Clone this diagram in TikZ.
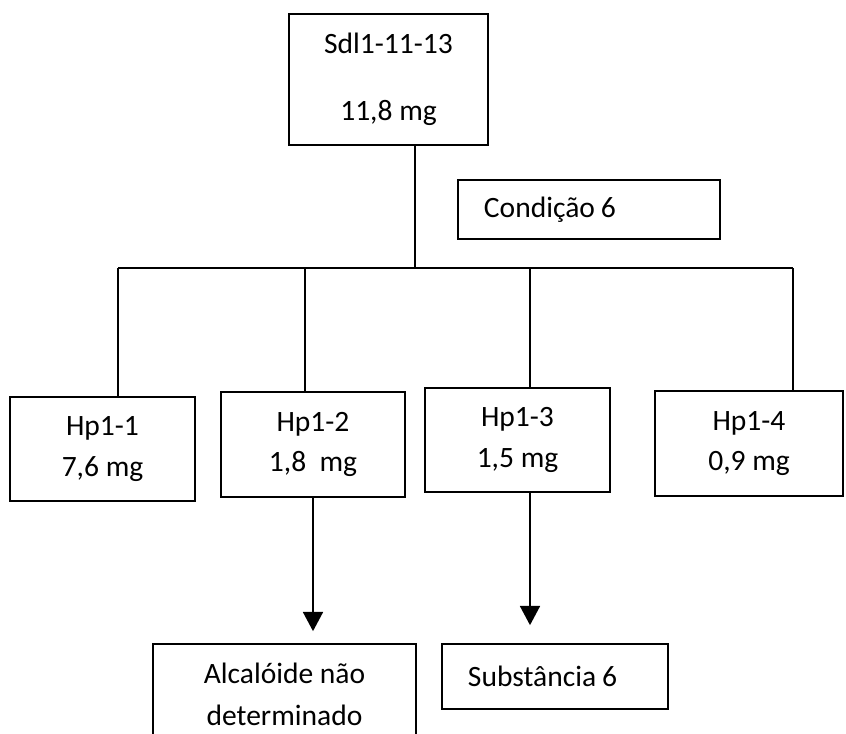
\documentclass[tikz,border=0pt]{standalone}
\usepackage{fontspec}
\setmainfont{Carlito}
\usetikzlibrary{arrows.meta, positioning}

\begin{document}
\begin{tikzpicture}[
  x=0.025cm, y=-0.025cm,
  >={Triangle[length=0.48cm, width=0.5cm]}, line width=1.2pt,
  font=\fontsize{21}{29}\selectfont,
  box/.style={rectangle, draw, align=center, inner sep=0pt},
  tag/.style={rectangle, draw, align=left, inner xsep=0.65cm, inner ysep=0pt}
]
  \useasboundingbox (0,0) rectangle (846,733);
  \node[box, minimum width=4.975cm, minimum height=3.275cm] (sdl) at (388.5,79.5) {Sdl1-11-13\\[19pt]11,8 mg};
  \node[tag, text width=5.25cm, minimum height=1.475cm] (cond) at (589,209.5) {Condição\hspace{0.2em}6};
  \node[box, minimum width=4.625cm, minimum height=2.6cm] (hp1) at (102.5,449) {Hp1-1\\7,6 mg};
  \node[box, minimum width=4.6cm, minimum height=2.625cm] (hp2) at (313,444.5) {Hp1-2\\1,8~~mg};
  \node[box, minimum width=4.625cm, minimum height=2.6cm] (hp3) at (517.5,440) {Hp1-3\\1,5 mg};
  \node[box, minimum width=4.7cm, minimum height=2.625cm] (hp4) at (749,443.5) {Hp1-4\\0,9 mg};
  \node[box, minimum width=6.575cm, minimum height=2.5cm] (alc) at (284.5,694) {Alcalóide não\\[1pt]determinado};
  \node[tag, text width=4.35cm, minimum height=1.625cm] (sub) at (555,676.5) {Substância\hspace{0.2em}6};
  \coordinate (j) at (415,268);
  \coordinate (b1) at (118,268);
  \coordinate (b2) at (305,268);
  \coordinate (b3) at (530,268);
  \coordinate (b4) at (793,268);
  \draw (sdl.south -| j) -- (j);
  \draw (b1) -- (b4);
  \draw (b1) -- (hp1.north -| b1);
  \draw (b2) -- (hp2.north -| b2);
  \draw (b3) -- (hp3.north -| b3);
  \draw (b4) -- (hp4.north -| b4);
  \draw[->, shorten >=0.3cm] (hp2.south) -- (hp2.south |- alc.north);
  \draw[->, shorten >=0.45cm] (hp3.south -| b3) -- (b3 |- sub.north);
\end{tikzpicture}
\end{document}
